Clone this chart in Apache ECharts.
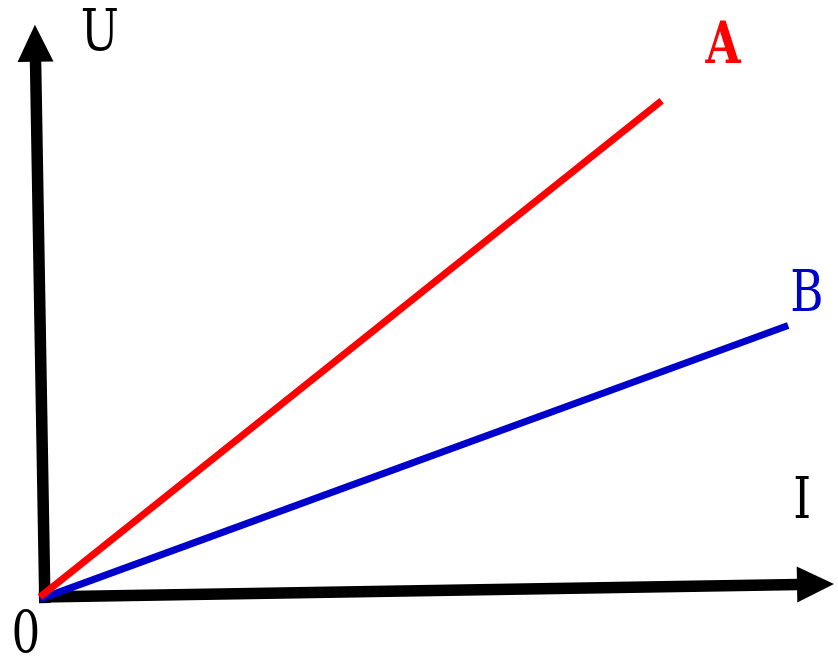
<!DOCTYPE html>
<html>
<head>
<meta charset="utf-8">
<style>
  html, body { margin: 0; padding: 0; background: #fff; }
  #chart { width: 838px; height: 663px; }
</style>
<script src="https://cdn.jsdelivr.net/npm/echarts@6/dist/echarts.min.js"></script>
</head>
<body>
<div id="chart"></div>
<script>
// U–I lines for two resistors A and B, starting at the origin
const lineA = [[0, 0.25], [77.9, 62.4]];
const lineB = [[0, 0], [93.75, 34.25]];

// Hand-drawn axes: [x0, y0, x1, y1], arrow head at the second point
const axisArrows = [
  [0.625, -0.5, -0.625, 71.9],   // U axis
  [-0.125, 0.25, 99.5, 1.9]      // I axis
];

// Text labels and where they sit, in data units
const labelTexts = ['U', 'A', 'B', 'I', '0'];
const labelAnchors = [[7.5, 70.6], [85.6, 69], [96.1, 38], [95.5, 12.1], [-1.75, -4.75]];
const labelColors = ['#000000', '#ff0000', '#0000cc', '#000000', '#000000'];
const labelWeights = ['normal', 'bold', 'normal', 'normal', 'normal'];

const chart = echarts.init(document.getElementById('chart'), null, { renderer: 'canvas' });

const hiddenAxis = {
  type: 'value',
  axisLine: { show: false },
  axisTick: { show: false },
  axisLabel: { show: false },
  splitLine: { show: false }
};

chart.setOption({
  animation: false,
  backgroundColor: '#ffffff',
  grid: { left: 0, top: 0, width: 840, height: 664 },
  xAxis: Object.assign({ min: -5, max: 100 }, hiddenAxis),
  yAxis: Object.assign({ min: -8, max: 75 }, hiddenAxis),
  series: [
    {
      type: 'custom',
      data: axisArrows,
      clip: false,
      z: 1,
      renderItem: function (params, api) {
        const p0 = api.coord([api.value(0), api.value(1)]);
        const p1 = api.coord([api.value(2), api.value(3)]);
        const dx = p1[0] - p0[0], dy = p1[1] - p0[1];
        const len = Math.sqrt(dx * dx + dy * dy);
        const ux = dx / len, uy = dy / len;
        const nx = -uy, ny = ux;
        const headLen = 37, halfW = 18;
        const bx = p1[0] - ux * headLen, by = p1[1] - uy * headLen;
        return {
          type: 'group',
          children: [
            {
              type: 'line',
              shape: { x1: p0[0], y1: p0[1], x2: bx + ux * 2, y2: by + uy * 2 },
              style: { stroke: '#000', lineWidth: 11.5, lineCap: 'butt' }
            },
            {
              type: 'polygon',
              shape: { points: [p1, [bx + nx * halfW, by + ny * halfW], [bx - nx * halfW, by - ny * halfW]] },
              style: { fill: '#000' }
            }
          ]
        };
      }
    },
    {
      type: 'line',
      data: lineB,
      showSymbol: false,
      z: 3,
      lineStyle: { color: '#0000cc', width: 7, cap: 'butt' }
    },
    {
      type: 'line',
      data: lineA,
      showSymbol: false,
      z: 4,
      lineStyle: { color: '#ff0000', width: 7, cap: 'butt' }
    }
  ]
});

const graphics = labelTexts.map(function (t, i) {
  const p = chart.convertToPixel({ gridIndex: 0 }, labelAnchors[i]);
  return {
    type: 'text',
    x: p[0],
    y: p[1],
    scaleX: 0.78,
    z: 10,
    style: {
      text: t,
      fill: labelColors[i],
      font: labelWeights[i] + ' 58px "DejaVu Serif"',
      align: 'center',
      verticalAlign: 'middle'
    }
  };
});
chart.setOption({ graphic: graphics });
</script>
</body>
</html>
